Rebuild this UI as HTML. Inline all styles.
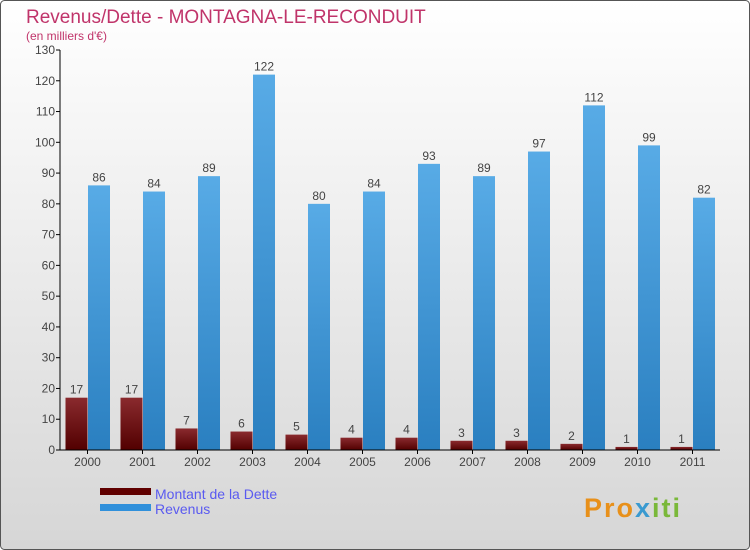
<!DOCTYPE html>
<html><head><meta charset="utf-8"><style>
body{margin:0;width:750px;height:550px;overflow:hidden}
svg{display:block;font-family:"Liberation Sans",sans-serif}
</style></head><body>
<svg width="750" height="550">
<defs>
<linearGradient id="bg" x1="0" y1="0" x2="0" y2="1"><stop offset="0" stop-color="#ffffff"/><stop offset="1" stop-color="#d6d6d6"/></linearGradient>
<linearGradient id="gd" x1="0" y1="0" x2="0" y2="1"><stop offset="0" stop-color="#8a2a2e"/><stop offset="1" stop-color="#520000"/></linearGradient>
<linearGradient id="gr" x1="0" y1="0" x2="0" y2="1"><stop offset="0" stop-color="#58abe6"/><stop offset="1" stop-color="#2a7fc0"/></linearGradient>
</defs>
<rect x="0.5" y="0.5" width="749" height="549" rx="4" fill="url(#bg)" stroke="#555"/>
<text x="26" y="23" font-size="19" fill="#c0346a">Revenus/Dette - MONTAGNA-LE-RECONDUIT</text>
<text x="26" y="40" font-size="12" fill="#c0346a">(en milliers d'€)</text>
<g id="plot"></g>
<rect x="100" y="488" width="51" height="7" fill="#600000"/>
<text x="155" y="499" font-size="14" fill="#5a5af0">Montant de la Dette</text>
<rect x="100" y="504" width="51" height="7" fill="#3090db"/>
<text x="155" y="514" font-size="14" fill="#5a5af0">Revenus</text>
<text x="584" y="517" font-size="27" font-weight="bold" letter-spacing="2" fill="#e8901a">Pro<tspan fill="#3a9ad0">x</tspan><tspan fill="#7ab83a">iti</tspan></text>
</svg>
<script>
const years=["2000","2001","2002","2003","2004","2005","2006","2007","2008","2009","2010","2011"];
const dette=[17,17,7,6,5,4,4,3,3,2,1,1];
const revenus=[86,84,89,122,80,84,93,89,97,112,99,82];
const ticks=[0,10,20,30,40,50,60,70,80,90,100,110,120,130];
const NS="http://www.w3.org/2000/svg";
const g=document.getElementById('plot');
const y=v=>450-v*400/130;
const gx=i=>60+i*55;
function mk(t,a,txt){const e=document.createElementNS(NS,t);for(const k in a)e.setAttribute(k,a[k]);if(txt!==undefined)e.textContent=txt;g.appendChild(e);return e;}
ticks.forEach(t=>{
  let l=mk('line',{x1:56,x2:60,y1:y(t),y2:y(t),stroke:'#000'});
  
  
  let tx=mk('text',{x:55,y:y(t)+4,'font-size':12,'text-anchor':'end',fill:'#444'},t);
  
  
});
years.forEach((yr,i)=>{
  const x=gx(i);
  let b1=mk('rect',{x:x+5.5,y:y(dette[i]),width:22,height:450-y(dette[i]),fill:'url(#gd)'});
  
  
  let b2=mk('rect',{x:x+28,y:y(revenus[i]),width:22,height:450-y(revenus[i]),fill:'url(#gr)'});
  
  
  let v1=mk('text',{x:x+16.5,y:y(dette[i])-4,'font-size':12,'text-anchor':'middle',fill:'#444'},dette[i]);
  
  
  let v2=mk('text',{x:x+39,y:y(revenus[i])-4,'font-size':12,'text-anchor':'middle',fill:'#444'},revenus[i]);
  
  
  let tk=mk('line',{x1:x+27.5,x2:x+27.5,y1:450,y2:454,stroke:'#000'});
  
  
  let lb=mk('text',{x:x+27.5,y:466,'font-size':12,'text-anchor':'middle',fill:'#444'},yr);
  
  
});
let ya=mk('line',{x1:60,x2:60,y1:50,y2:450,stroke:'#000'});


let xa=mk('line',{x1:60,x2:720,y1:450,y2:450,stroke:'#000'});


</script>
</body></html>
